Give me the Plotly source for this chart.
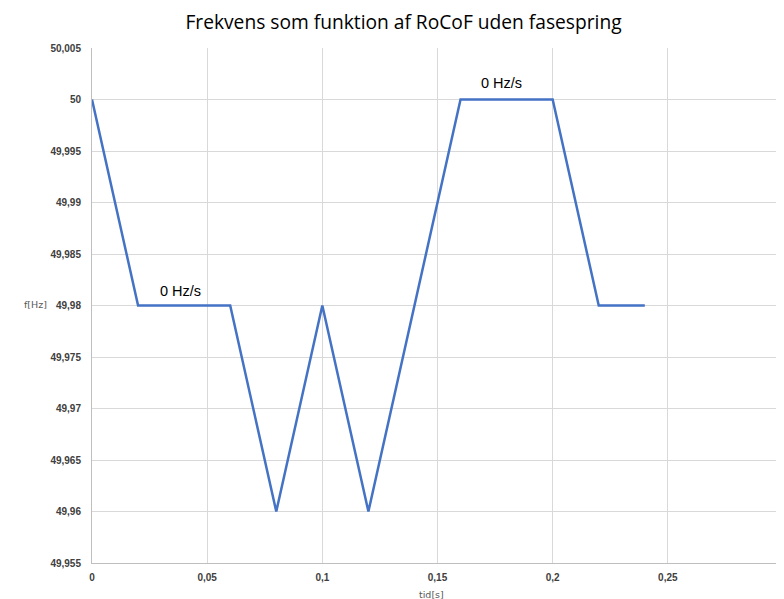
import plotly.graph_objects as go

# Data
tid = [0, 0.02, 0.06, 0.08, 0.1, 0.12, 0.16, 0.2, 0.22, 0.24]
frekvens = [50, 49.98, 49.98, 49.96, 49.98, 49.96, 50, 50, 49.98, 49.98]

label_x = [0.0385, 0.178]
label_y = [49.9814, 50.0016]
label_text = ['0 Hz/s', '0 Hz/s']

x_ticks = [0, 0.05, 0.1, 0.15, 0.2, 0.25, 0.3]
y_ticks = [49.955, 49.96, 49.965, 49.97, 49.975, 49.98, 49.985, 49.99, 49.995, 50, 50.005]


def fmt(v):
    s = ('%.3f' % v).rstrip('0').rstrip('.')
    return s.replace('.', ',')


fig = go.Figure()

fig.add_trace(
    go.Scatter(x=tid,
               y=frekvens,
               mode='lines',
               line={'color': '#4472C4', 'width': 2.5},
               showlegend=False,
               )
    )

# Data labels
for x, y, t in zip(label_x, label_y, label_text):
    fig.add_annotation(x=x, y=y, text=t, showarrow=False,
                       xref='x', yref='y',
                       font=dict(family='Liberation Sans', size=14.5, color='black'))

# Axis titles (horizontal, Excel style)
fig.add_annotation(x=-0.082, y=0.501, xref='paper', yref='paper', text='f[Hz]',
                   xanchor='center', yanchor='middle', showarrow=False,
                   font=dict(family='DejaVu Sans', size=9.5, color='#595959'))
fig.add_annotation(x=0.491, y=-0.062, xref='paper', yref='paper', text='tid[s]',
                   xanchor='center', yanchor='middle', showarrow=False,
                   font=dict(family='DejaVu Sans', size=9.5, color='#595959'))

tick_font = dict(family='Liberation Sans', size=10, color='#404040', weight='bold')

fig.update_xaxes(range=[0, 0.3],
                 tickvals=x_ticks,
                 ticktext=[fmt(v) for v in x_ticks],
                 showgrid=True,
                 gridcolor='#d9d9d9',
                 gridwidth=1,
                 showline=True,
                 linecolor='#bfbfbf',
                 linewidth=1,
                 zeroline=False,
                 ticks='',
                 tickfont=tick_font,
                 ticklabelstandoff=5,
                 automargin=False,
                 )

fig.update_yaxes(range=[49.955, 50.005],
                 tickvals=y_ticks,
                 ticktext=[fmt(v) for v in y_ticks],
                 showgrid=True,
                 gridcolor='#d9d9d9',
                 gridwidth=1,
                 showline=True,
                 linecolor='#bfbfbf',
                 linewidth=1,
                 zeroline=False,
                 ticks='',
                 tickfont=tick_font,
                 ticklabelstandoff=8,
                 automargin=False,
                 )

fig.update_layout(width=784,
                  height=599,
                  margin={'l': 84, 'r': 8.5, 'b': 44, 't': 40},
                  title={'text': 'Frekvens som funktion af RoCoF uden fasespring',
                         'x': 0.5045, 'xanchor': 'center',
                         'y': 0.9766, 'yanchor': 'middle',
                         'font': dict(family='Open Sans', size=19.2, color='black')},
                  font=dict(family='DejaVu Sans'),
                  paper_bgcolor='white',
                  plot_bgcolor='white',
                  )

fig.write_html('out.html')
